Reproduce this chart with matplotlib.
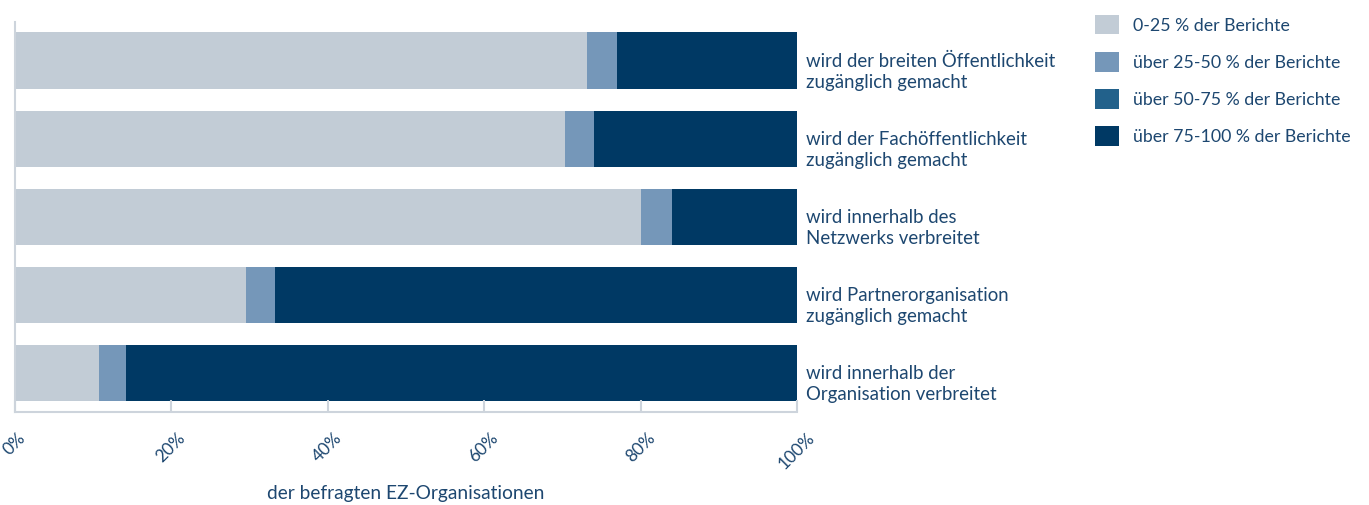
import numpy as np
import matplotlib.pyplot as plt

plt.rcParams['font.family'] = ['Lato', 'DejaVu Sans']

# Daten (Anteil der befragten EZ-Organisationen in %)
kategorien = ['wird der breiten Öffentlichkeit\nzugänglich gemacht',
              'wird der Fachöffentlichkeit\nzugänglich gemacht',
              'wird innerhalb des\nNetzwerks verbreitet',
              'wird Partnerorganisation\nzugänglich gemacht',
              'wird innerhalb der\nOrganisation verbreitet']
s_0_25    = [73.1, 70.4, 80.0, 29.6, 10.8]
s_25_50   = [3.9, 3.7, 4.0, 3.7, 3.5]
s_50_75   = [0.0, 0.0, 0.0, 0.0, 0.0]
s_75_100  = [23.0, 25.9, 16.0, 66.7, 85.7]
serien    = ['0-25 % der Berichte', 'über 25-50 % der Berichte',
             'über 50-75 % der Berichte', 'über 75-100 % der Berichte']
ticks     = [0, 20, 40, 60, 80, 100]

farben = ['#c2ccd6', '#7597b9', '#22618b', '#003964']
textfarbe = '#1d4770'
achsfarbe = '#cdd4dc'

fig = plt.figure(figsize=(13.69, 5.05), dpi=100)
ax = fig.add_axes([0.0106, 0.1842, 0.5716, 0.7723])

y = np.arange(len(kategorien))
links = np.zeros(len(kategorien))
for werte, farbe, name in zip([s_0_25, s_25_50, s_50_75, s_75_100], farben, serien):
    ax.barh(y, werte, left=links, height=0.73, color=farbe, label=name, lw=0)
    links += np.array(werte)

ax.set_xlim(0, 100)
ax.set_ylim(4.5, -0.5)
ax.set_yticks([])
ax.set_xticks(ticks)
ax.set_xticklabels([f'{t}%' for t in ticks], rotation=45, ha='center',
                   fontsize=12.5, color=textfarbe)
ax.tick_params(axis='x', direction='in', length=9, width=1.5, color=achsfarbe, pad=13)
for s in ['top', 'right']:
    ax.spines[s].set_visible(False)
for s in ['left', 'bottom']:
    ax.spines[s].set_color(achsfarbe)
    ax.spines[s].set_linewidth(1.5)

ax.set_xlabel('der befragten EZ-Organisationen', fontsize=13.8, color=textfarbe, labelpad=9)

# Beschriftung rechts neben den Balken (leicht nach unten versetzt wie im Original)
for yi, txt in zip(y, kategorien):
    ax.text(101.2, yi + 0.14, txt, va='center', ha='left', fontsize=13.4,
            color=textfarbe, linespacing=1.3)

handles, labels = ax.get_legend_handles_labels()
leg = fig.legend(handles, labels, loc='upper left', bbox_to_anchor=(0.7885, 1.002),
                 frameon=False, fontsize=12.8, handlelength=1.3, handleheight=1.3,
                 labelspacing=1.0, handletextpad=0.8, labelcolor=textfarbe)

fig.savefig('out.png', dpi=100)
